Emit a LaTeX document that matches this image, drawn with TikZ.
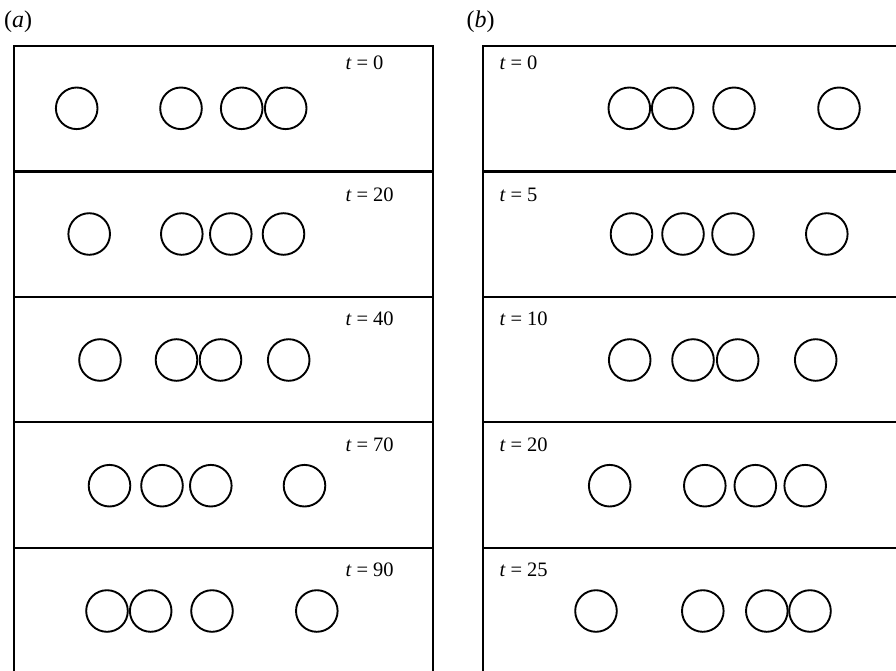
\documentclass[tikz,border=0pt]{standalone}
\usepackage{fontspec}
\setmainfont{Liberation Serif}
\newcommand{\tlab}[1]{\textit{t}\hspace{0.24em}=\hspace{0.24em}#1}
\begin{document}
\begin{tikzpicture}[x=1pt,y=-1pt,
  boxline/.style={line width=2.1pt},
  ball/.style={line width=1.9pt},
  tlabel/.style={anchor=base west, inner sep=0pt, font=\fontsize{20.5}{24}\selectfont},
  plabel/.style={anchor=base west, inner sep=0pt, font=\fontsize{24}{28}\selectfont}]
\useasboundingbox (0,0) rectangle (896,671);
\clip (0,0) rectangle (896,671);
% panel labels
\node[plabel] (pa) at (4,28) {(\textit{a})};
\node[plabel] (pb) at (466.5,28) {(\textit{b})};
% left frame
\draw[boxline] (14,680) -- (14,45.7) -- (432.7,45.7) -- (432.7,680);
\foreach \yy in {171.5,297,422,548} \draw[boxline] (14,\yy) -- (432.7,\yy);
% right frame
\draw[boxline] (482.7,680) -- (482.7,45.7) -- (900,45.7);
\foreach \yy in {171.5,297,422,548} \draw[boxline] (482.7,\yy) -- (900,\yy);
% time labels (a)
\node[tlabel] (la1) at (345.5,70) {\tlab{0}};
\node[tlabel] (la2) at (345.5,201.7) {\tlab{20}};
\node[tlabel] (la3) at (345.5,325.7) {\tlab{40}};
\node[tlabel] (la4) at (345.5,451.7) {\tlab{70}};
\node[tlabel] (la5) at (345.5,576.7) {\tlab{90}};
% time labels (b)
\node[tlabel] (lb1) at (499.5,70) {\tlab{0}};
\node[tlabel] (lb2) at (499.5,201.7) {\tlab{5}};
\node[tlabel] (lb3) at (499.5,325.7) {\tlab{10}};
\node[tlabel] (lb4) at (499.5,451.7) {\tlab{20}};
\node[tlabel] (lb5) at (499.5,576.7) {\tlab{25}};
% balls (a)
\foreach \xx in {76.7,181,241.7,285.7} \draw[ball] (\xx,108.3) circle[radius=20.8pt];
\foreach \xx in {89.2,181.8,230.8,283.5} \draw[ball] (\xx,234) circle[radius=20.8pt];
\foreach \xx in {100,176.5,220.5,288.7} \draw[ball] (\xx,360) circle[radius=20.8pt];
\foreach \xx in {109.5,162,210.8,304.5} \draw[ball] (\xx,485.7) circle[radius=20.8pt];
\foreach \xx in {107,150.7,212,316.8} \draw[ball] (\xx,611) circle[radius=20.8pt];
% balls (b)
\foreach \xx in {629.3,672.7,734,839} \draw[ball] (\xx,108.3) circle[radius=20.8pt];
\foreach \xx in {631.5,683,733,826.8} \draw[ball] (\xx,234) circle[radius=20.8pt];
\foreach \xx in {629.7,693,737.7,815.7} \draw[ball] (\xx,360) circle[radius=20.8pt];
\foreach \xx in {609.7,704.8,755.3,805.2} \draw[ball] (\xx,485.7) circle[radius=20.8pt];
\foreach \xx in {596,702.8,766.8,810} \draw[ball] (\xx,611) circle[radius=20.8pt];
\end{tikzpicture}
\end{document}
